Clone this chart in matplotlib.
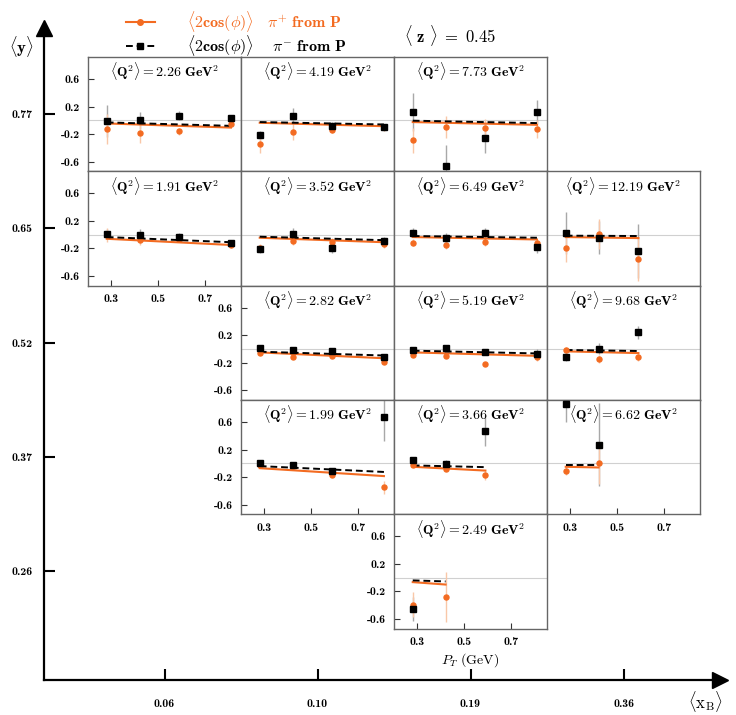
import numpy as np
import matplotlib
matplotlib.use('Agg')
import matplotlib.pyplot as plt
from matplotlib.lines import Line2D

plt.rcParams['mathtext.fontset'] = 'cm'
plt.rcParams['axes.unicode_minus'] = False

# ---- data ----
pt_bins = [0.28, 0.42, 0.59, 0.81]
xb_labels = ['0.06', '0.10', '0.19', '0.36']
y_labels = ['0.77', '0.65', '0.52', '0.37', '0.26']

q2 = [2.26, 4.19, 7.73, 1.91, 3.52, 6.49, 12.19, 2.82, 5.19, 9.68, 1.99, 3.66, 6.62, 2.49]
panel_row = [0, 0, 0, 1, 1, 1, 1, 2, 2, 2, 3, 3, 3, 4]   # <y> bin
panel_col = [0, 1, 2, 0, 1, 2, 3, 1, 2, 3, 1, 2, 3, 2]   # <xB> bin
n_pt = [4, 4, 4, 4, 4, 4, 3, 4, 4, 3, 4, 3, 2, 2]

nan = np.nan
# pi+ from P
pip_val = [[-0.13, -0.19, -0.16, -0.05], [-0.35, -0.17, -0.135, -0.10], [-0.29, -0.09, -0.11, -0.13],
           [0.0, -0.08, -0.07, -0.15], [-0.19, -0.095, -0.10, -0.14], [-0.12, -0.15, -0.10, -0.12],
           [-0.20, 0.01, -0.35, nan], [-0.06, -0.12, -0.10, -0.19], [-0.09, -0.10, -0.22, -0.12],
           [-0.015, -0.15, -0.11, nan], [-0.02, -0.045, -0.165, -0.35], [-0.025, -0.075, -0.17, nan],
           [-0.105, 0.0, nan, nan], [-0.39, -0.28, nan, nan]]
pip_err = [[0.22, 0.14, 0.05, 0.04], [0.13, 0.12, 0.05, 0.05], [0.18, 0.16, 0.13, 0.13],
           [0.10, 0.07, 0.04, 0.04], [0.05, 0.06, 0.05, 0.05], [0.05, 0.06, 0.06, 0.05],
           [0.19, 0.22, 0.32, nan], [0.03, 0.03, 0.03, 0.03], [0.03, 0.03, 0.03, 0.06],
           [0.05, 0.06, 0.07, nan], [0.03, 0.04, 0.04, 0.10], [0.03, 0.04, 0.07, nan],
           [0.06, 0.30, nan, nan], [0.18, 0.36, nan, nan]]
# pi- from P
pim_val = [[-0.01, 0.0, 0.07, 0.035], [-0.22, 0.07, -0.08, -0.10], [0.12, -0.66, -0.25, 0.12],
           [0.01, 0.0, -0.03, -0.12], [-0.21, 0.01, -0.20, -0.09], [0.03, -0.045, 0.025, -0.18],
           [0.025, -0.045, -0.24, nan], [0.02, -0.01, -0.035, -0.11], [-0.015, 0.02, -0.045, -0.08],
           [-0.12, 0.005, 0.24, nan], [0.005, -0.02, -0.115, 0.68], [0.055, -0.005, 0.475, nan],
           [0.86, 0.27, nan, nan], [-0.455, nan, nan, nan]]
pim_err = [[0.23, 0.12, 0.06, 0.04], [0.07, 0.11, 0.06, 0.05], [0.28, 0.30, 0.22, 0.17],
           [0.07, 0.08, 0.05, 0.04], [0.06, 0.08, 0.06, 0.05], [0.07, 0.07, 0.07, 0.09],
           [0.30, 0.24, 0.39, nan], [0.03, 0.03, 0.03, 0.03], [0.03, 0.04, 0.04, 0.08],
           [0.06, 0.08, 0.10, nan], [0.03, 0.04, 0.04, 0.35], [0.04, 0.05, 0.23, nan],
           [0.26, 0.60, nan, nan], [0.18, nan, nan, nan]]
# linear fits: value at first and last pT bin
pip_fit = [(-0.045, -0.105), (-0.035, -0.085), (-0.025, -0.065), (-0.06, -0.15), (-0.045, -0.11),
           (-0.035, -0.07), (-0.035, -0.05), (-0.05, -0.135), (-0.05, -0.10), (-0.035, -0.06),
           (-0.07, -0.185), (-0.05, -0.105), (-0.05, -0.06), (-0.065, -0.10)]
pim_fit = [(-0.03, -0.08), (-0.025, -0.06), (-0.005, -0.04), (-0.035, -0.11), (-0.03, -0.08),
           (-0.02, -0.045), (-0.015, -0.02), (-0.04, -0.095), (-0.025, -0.065), (-0.015, -0.03),
           (-0.04, -0.125), (-0.03, -0.055), (-0.02, -0.02), (-0.04, -0.055)]

orange = '#f36b21'
W, H = 736, 715
fig = plt.figure(figsize=(W / 100, H / 100), dpi=100)

def box(x0, y0, w, h):
    return [x0 / W, 1 - (y0 + h) / H, w / W, h / H]

col_x = [88, 241, 394, 547]
row_y = [57, 171.3, 285.6, 400, 514.3]
pw, ph = 153, 114.3
tick_font = dict(fontfamily='cmb10', fontsize=8.5)

# outer axes (<xB>, <y>)
ax_out = fig.add_axes(box(44, 28, 676, 652))
ax_out.set_facecolor('none')
ax_out.set_xlim(44, 720)
ax_out.set_ylim(680, 28)
for s in ['top', 'right']:
    ax_out.spines[s].set_visible(False)
for s in ['left', 'bottom']:
    ax_out.spines[s].set_linewidth(1.6)
ax_out.set_xticks([c + pw / 2 for c in col_x], xb_labels, **tick_font)
ax_out.set_yticks([r + ph / 2 for r in row_y], y_labels, **tick_font)
ax_out.tick_params(axis='x', direction='in', length=8, width=1.5, pad=14)
ax_out.tick_params(axis='y', direction='in', length=8, width=1.5, pad=8)
ax_out.plot([1], [0], marker='>', ms=12, color='k', transform=ax_out.transAxes, clip_on=False)
ax_out.plot([0], [1], marker='^', ms=12, color='k', transform=ax_out.transAxes, clip_on=False)
fig.text(21 / W, 1 - 47 / H, r'$\langle\mathbf{y}\rangle$', fontsize=12, ha='center', va='center')
fig.text(705 / W, 1 - 702 / H, r'$\langle\mathrm{x_B}\rangle$', fontsize=12, ha='center', va='center')
fig.text(404 / W, 1 - 36 / H, r'$\langle\ \mathbf{z}\ \rangle\ =\ \mathbf{0.45}$', fontsize=12,
         ha='left', va='center')

last_row_of_col = {c: max(r for r, cc in zip(panel_row, panel_col) if cc == c) for c in set(panel_col)}
first_col_of_row = {r: min(c for rr, c in zip(panel_row, panel_col) if rr == r) for r in set(panel_row)}

for i in range(len(q2)):
    r, c, n = panel_row[i], panel_col[i], n_pt[i]
    ax = fig.add_axes(box(col_x[c], row_y[r], pw, ph))
    ax.set_xlim(0.2, 0.853)
    ax.set_ylim(-0.74, 0.92)
    for s in ax.spines.values():
        s.set_color('#666666')
        s.set_linewidth(1.0)
    ax.axhline(0, color='#d0d0d0', lw=0.8, zorder=0)

    x = np.array(pt_bins[:n])
    ax.errorbar(x, pim_val[i][:n], yerr=pim_err[i][:n], fmt='none', ecolor='#a8a8a8', elinewidth=1, zorder=1)
    ax.errorbar(x, pip_val[i][:n], yerr=pip_err[i][:n], fmt='none', ecolor='#f9c7a8', elinewidth=1, zorder=1)
    xf = [pt_bins[0], pt_bins[n - 1]]
    ax.plot(xf, pip_fit[i], color=orange, lw=1.5, zorder=2)
    ax.plot(xf, pim_fit[i], color='k', lw=1.4, ls=(0, (3.5, 2)), zorder=3)
    ax.plot(x, pip_val[i][:n], 'o', color=orange, ms=3.6, zorder=4)
    ax.plot(x, pim_val[i][:n], 's', color='k', ms=3.8, zorder=5)

    ax.text(0.5, 0.875, r'$\langle\mathbf{Q}^{\mathbf{2}}\rangle = \mathbf{%.2f\ GeV}^{\mathbf{2}}$' % q2[i],
            transform=ax.transAxes, ha='center', va='center', fontsize=10)

    ax.tick_params(direction='in', length=4, width=0.8, color='#333333')
    if c == first_col_of_row[r]:
        ax.set_yticks([-0.6, -0.2, 0.2, 0.6], ['-0.6', '-0.2', '0.2', '0.6'], **tick_font)
        ax.tick_params(axis='y', pad=6)
    else:
        ax.set_yticks([])
    if r == last_row_of_col[c]:
        ax.set_xticks([0.3, 0.5, 0.7], ['0.3', '0.5', '0.7'], **tick_font)
        ax.tick_params(axis='x', pad=6)
        if r == 4:
            ax.set_xlabel(r'$P_T\ \mathrm{(GeV)}$', fontsize=10, labelpad=3)
    else:
        ax.set_xticks([])

h_pip = Line2D([], [], color=orange, lw=1.5, marker='o', ms=4)
h_pim = Line2D([], [], color='k', lw=1.4, ls=(0, (3.5, 2)), marker='s', ms=4)
fig.legend([h_pip, h_pim],
           [r'$\langle\mathbf{2cos(\phi)}\rangle\ \ \ \mathbf{\pi^{+}\ from\ P}$',
            r'$\langle\mathbf{2cos(\phi)}\rangle\ \ \ \ \mathbf{\pi^{-}\ from\ P}$'],
           loc='upper left', bbox_to_anchor=(118 / W, 1 - 1 / H), frameon=False, fontsize=11.5,
           handlelength=1.8, handletextpad=2.0, labelspacing=-0.05, borderpad=0,
           labelcolor=[orange, 'k'])

fig.savefig('out.png', dpi=100)
